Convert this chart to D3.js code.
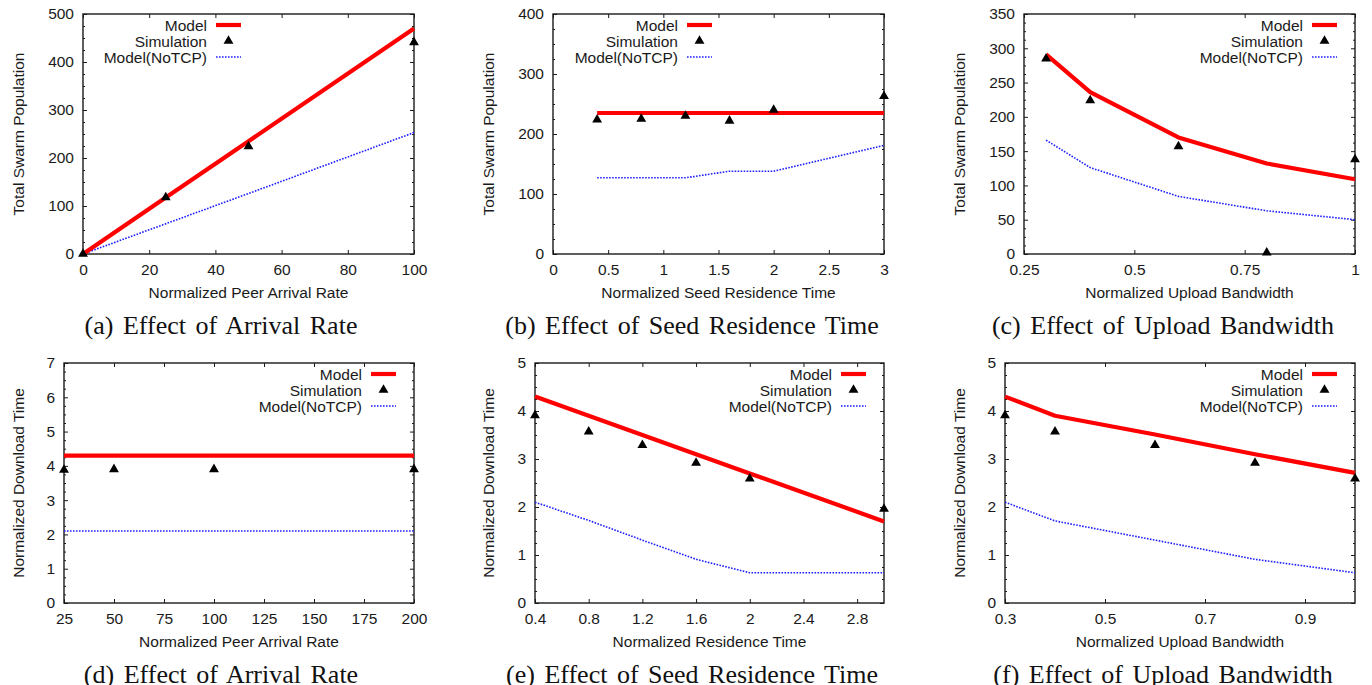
<!DOCTYPE html>
<html>
<head>
<meta charset="utf-8">
<script src="https://cdn.jsdelivr.net/npm/d3@7/dist/d3.min.js"></script>
<style>
  html, body { margin: 0; padding: 0; background: #fff; }
  svg { display: block; }
  .tick text { font-family: "Liberation Sans", Arial, sans-serif; font-size: 15.5px; fill: #1a1a1a; }
</style>
</head>
<body>
<svg id="chart" width="1372" height="685"></svg>
<script>
// ---------------- DATA ----------------
// (a) Effect of Arrival Rate – Total Swarm Population
const xA      = [0, 25, 50, 100];
const modelA  = [0, 117.5, 235, 470];
const simA    = [0, 118, 224, 441];
const notcpA  = [0, 63, 126, 253];
const xTicksA = [0, 20, 40, 60, 80, 100];
const yTicksA = [0, 100, 200, 300, 400, 500];

// (b) Effect of Seed Residence Time – Total Swarm Population
const xB      = [0.4, 0.8, 1.2, 1.6, 2.0, 3.0];
const modelB  = [235, 235, 235, 235, 235, 235];
const simB    = [224, 225, 230, 222, 240, 263];
const notcpB  = [127, 127, 127, 138, 138, 181];
const xTicksB = [0, 0.5, 1, 1.5, 2, 2.5, 3];
const yTicksB = [0, 100, 200, 300, 400];

// (c) Effect of Upload Bandwidth – Total Swarm Population
const xC      = [0.3, 0.4, 0.6, 0.8, 1.0];
const modelC  = [291, 236, 170, 132, 109];
const simC    = [285, 224, 157, 2, 138];
const notcpC  = [166, 126, 84, 63, 50];
const xTicksC = [0.25, 0.5, 0.75, 1];
const yTicksC = [0, 50, 100, 150, 200, 250, 300, 350];

// (d) Effect of Arrival Rate – Normalized Download Time
const xD      = [25, 50, 100, 200];
const modelD  = [4.3, 4.3, 4.3, 4.3];
const simD    = [3.88, 3.9, 3.9, 3.9];
const notcpD  = [2.1, 2.1, 2.1, 2.1];
const xTicksD = [25, 50, 75, 100, 125, 150, 175, 200];
const yTicksD = [0, 1, 2, 3, 4, 5, 6, 7];

// (e) Effect of Seed Residence Time – Normalized Download Time
const xE      = [0.4, 0.8, 1.2, 1.6, 2.0, 3.0];
const modelE  = [4.3, 3.9, 3.5, 3.1, 2.7, 1.7];
const simE    = [3.91, 3.57, 3.29, 2.92, 2.59, 1.96];
const notcpE  = [2.1, 1.72, 1.31, 0.91, 0.63, 0.63];
const xTicksE = [0.4, 0.8, 1.2, 1.6, 2, 2.4, 2.8];
const yTicksE = [0, 1, 2, 3, 4, 5];

// (f) Effect of Upload Bandwidth – Normalized Download Time
const xF      = [0.3, 0.4, 0.6, 0.8, 1.0];
const modelF  = [4.3, 3.9, 3.51, 3.1, 2.71];
const simF    = [3.91, 3.57, 3.29, 2.92, 2.59];
const notcpF  = [2.1, 1.71, 1.31, 0.91, 0.63];
const xTicksF = [0.3, 0.5, 0.7, 0.9];
const yTicksF = [0, 1, 2, 3, 4, 5];

const legendLabels = ["Model", "Simulation", "Model(NoTCP)"];
const captions = [
  "(a) Effect of Arrival Rate",
  "(b) Effect of Seed Residence Time",
  "(c) Effect of Upload Bandwidth",
  "(d) Effect of Arrival Rate",
  "(e) Effect of Seed Residence Time",
  "(f) Effect of Upload Bandwidth"
];
const xTitles = [
  "Normalized Peer Arrival Rate",
  "Normalized Seed Residence Time",
  "Normalized Upload Bandwidth",
  "Normalized Peer Arrival Rate",
  "Normalized Residence Time",
  "Normalized Upload Bandwidth"
];
const yTitles = [
  "Total Swarm Population", "Total Swarm Population", "Total Swarm Population",
  "Normalized Download Time", "Normalized Download Time", "Normalized Download Time"
];

// ---------------- PANELS ----------------
const panelData = [
  {x: xA, model: modelA, sim: simA, notcp: notcpA, xt: xTicksA, yt: yTicksA, xd: [0, 100],   yd: [0, 500]},
  {x: xB, model: modelB, sim: simB, notcp: notcpB, xt: xTicksB, yt: yTicksB, xd: [0, 3],     yd: [0, 400]},
  {x: xC, model: modelC, sim: simC, notcp: notcpC, xt: xTicksC, yt: yTicksC, xd: [0.25, 1],  yd: [0, 350]},
  {x: xD, model: modelD, sim: simD, notcp: notcpD, xt: xTicksD, yt: yTicksD, xd: [25, 200],  yd: [0, 7]},
  {x: xE, model: modelE, sim: simE, notcp: notcpE, xt: xTicksE, yt: yTicksE, xd: [0.4, 3.0], yd: [0, 5]},
  {x: xF, model: modelF, sim: simF, notcp: notcpF, xt: xTicksF, yt: yTicksF, xd: [0.3, 1.0], yd: [0, 5]}
];
const layout = [
  {l: 83,   r: 414,  t: 14,  b: 254, cap: 221,  legEnd: 241,  yTitleOff: 65},
  {l: 553,  r: 884,  t: 14,  b: 254, cap: 692,  legEnd: 712,  yTitleOff: 65},
  {l: 1024, r: 1355, t: 14,  b: 254, cap: 1163, legEnd: 1337, yTitleOff: 65},
  {l: 64,   r: 414,  t: 363, b: 603, cap: 221,  legEnd: 396,  yTitleOff: 46},
  {l: 535,  r: 884,  t: 363, b: 603, cap: 692,  legEnd: 866,  yTitleOff: 47},
  {l: 1005, r: 1355, t: 363, b: 603, cap: 1163, legEnd: 1337, yTitleOff: 46}
];

const INK = "#1a1a1a";
const RED = "#ff0000";
const BLUE = "#1f1fff";
const SANS = "'Liberation Sans', Arial, sans-serif";
const SERIF = "'Liberation Serif', 'Times New Roman', serif";

const svg = d3.select("#chart");
const tri = d3.symbol().type(d3.symbolTriangle).size(42);

panelData.forEach((p, i) => {
  const L = layout[i];
  const g = svg.append("g");
  const x = d3.scaleLinear().domain(p.xd).range([L.l, L.r]);
  const y = d3.scaleLinear().domain(p.yd).range([L.b, L.t]);

  // minor y ticks (4 subdivisions)
  const step = p.yt[1] - p.yt[0];
  const minor = [];
  for (let k = 0; k < p.yt.length - 1; k++) {
    for (let s = 1; s < 4; s++) minor.push(p.yt[k] + step * s / 4);
  }

  const fmt = d => String(d);

  const ax = g.append("g").attr("transform", `translate(0,${L.b})`)
    .call(d3.axisBottom(x).tickValues(p.xt).tickFormat(fmt).tickSizeInner(-4).tickSizeOuter(0).tickPadding(9.5));
  const axT = g.append("g").attr("transform", `translate(0,${L.t})`)
    .call(d3.axisTop(x).tickValues(p.xt).tickFormat("").tickSizeInner(-4).tickSizeOuter(0));
  const ay = g.append("g").attr("transform", `translate(${L.l},0)`)
    .call(d3.axisLeft(y).tickValues(p.yt).tickFormat(fmt).tickSizeInner(-4).tickSizeOuter(0).tickPadding(9));
  const ayR = g.append("g").attr("transform", `translate(${L.r},0)`)
    .call(d3.axisRight(y).tickValues(p.yt).tickFormat("").tickSizeInner(-4).tickSizeOuter(0));
  const ayM = g.append("g").attr("transform", `translate(${L.l},0)`)
    .call(d3.axisLeft(y).tickValues(minor).tickFormat("").tickSizeInner(-2).tickSizeOuter(0));
  const ayMR = g.append("g").attr("transform", `translate(${L.r},0)`)
    .call(d3.axisRight(y).tickValues(minor).tickFormat("").tickSizeInner(-2).tickSizeOuter(0));

  [ax, axT, ay, ayR, ayM, ayMR].forEach(a => {
    a.select(".domain").remove();
    a.selectAll(".tick line").attr("stroke", INK).attr("stroke-width", 1);
    a.selectAll(".tick text").attr("fill", INK)
      .style("font-family", SANS).style("font-size", "15.5px");
  });

  // frame
  g.append("rect").attr("x", L.l).attr("y", L.t)
    .attr("width", L.r - L.l).attr("height", L.b - L.t)
    .attr("fill", "none").attr("stroke", INK).attr("stroke-width", 1.4);

  // lines
  const line = d3.line().x(d => x(d[0])).y(d => y(d[1]));
  g.append("path").datum(p.x.map((v, k) => [v, p.notcp[k]]))
    .attr("d", line).attr("fill", "none").attr("stroke", BLUE)
    .attr("stroke-width", 1.6).attr("stroke-dasharray", "1.6,1.4");
  g.append("path").datum(p.x.map((v, k) => [v, p.model[k]]))
    .attr("d", line).attr("fill", "none").attr("stroke", RED)
    .attr("stroke-width", 4.2).attr("stroke-linejoin", "round");
  g.selectAll("path.sim").data(p.x.map((v, k) => [v, p.sim[k]])).enter()
    .append("path").attr("class", "sim")
    .attr("d", tri).attr("transform", d => `translate(${x(d[0])},${y(d[1])})`)
    .attr("fill", "#000");

  // legend
  const ls = L.legEnd - 25;
  const rows = [L.t + 11, L.t + 27, L.t + 43];
  legendLabels.forEach((lab, k) => {
    g.append("text").attr("x", ls - 9).attr("y", rows[k]).attr("dy", "0.36em")
      .attr("text-anchor", "end").attr("fill", INK)
      .style("font-family", SANS).style("font-size", "15.5px").text(lab);
  });
  g.append("line").attr("x1", ls).attr("x2", L.legEnd).attr("y1", rows[0]).attr("y2", rows[0])
    .attr("stroke", RED).attr("stroke-width", 4.2);
  g.append("path").attr("d", tri).attr("transform", `translate(${(ls + L.legEnd) / 2},${rows[1]})`).attr("fill", "#000");
  g.append("line").attr("x1", ls).attr("x2", L.legEnd).attr("y1", rows[2]).attr("y2", rows[2])
    .attr("stroke", BLUE).attr("stroke-width", 1.6).attr("stroke-dasharray", "1.6,1.4");

  // axis titles
  g.append("text").attr("x", (L.l + L.r) / 2).attr("y", L.b + 44)
    .attr("text-anchor", "middle").attr("fill", INK)
    .style("font-family", SANS).style("font-size", "15.5px").text(xTitles[i]);
  g.append("text")
    .attr("transform", `translate(${L.l - L.yTitleOff},${(L.t + L.b) / 2}) rotate(-90)`)
    .attr("dy", "0.36em").attr("text-anchor", "middle").attr("fill", INK)
    .style("font-family", SANS).style("font-size", "15.5px").text(yTitles[i]);

  // caption
  g.append("text").attr("x", L.cap).attr("y", L.b + 80)
    .attr("text-anchor", "middle").attr("fill", "#111")
    .style("font-family", SERIF).style("font-size", "26px").style("word-spacing", "3px")
    .text(captions[i]);
});
</script>
</body>
</html>
